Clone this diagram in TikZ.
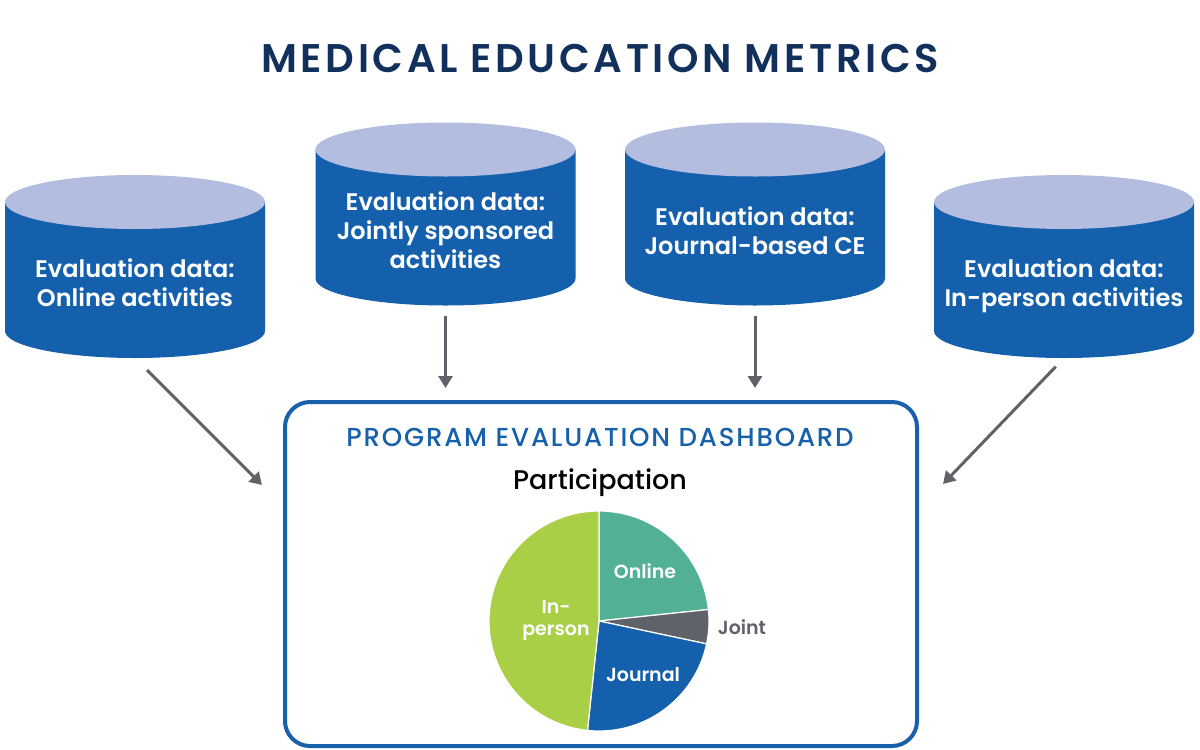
\documentclass[tikz,border=0pt]{standalone}
\usepackage{fontspec}
\setmainfont{Poppins}
\newfontfamily\semibold{Poppins SemiBold}
\newfontfamily\medium{Poppins Medium}
\newfontfamily\titlefont[LetterSpace=9]{Poppins SemiBold}
\newfontfamily\dashfont[LetterSpace=7]{Poppins Medium}
\usetikzlibrary{arrows.meta,positioning,calc}

\definecolor{navy}{HTML}{12305C}
\definecolor{dashblue}{HTML}{1760AA}
\definecolor{cylblue}{HTML}{1460AD}
\definecolor{cyltop}{HTML}{B3BDE0}
\definecolor{arrgray}{HTML}{5F6368}
\definecolor{onlinegreen}{HTML}{52B095}
\definecolor{jointgray}{HTML}{5F6369}
\definecolor{inpersongreen}{HTML}{A8CF45}

\tikzset{
  cylbody/.style={fill=cylblue},
  cyllid/.style={fill=cyltop},
  cyltext/.style={text=white, align=center, font=\semibold\fontsize{12}{14.5}\selectfont,
    execute at begin node=\strut, execute at end node=\strut},
  arr/.style={draw=arrgray, line width=1.5pt, -{Triangle[length=6pt,width=7pt]}},
  dashbox/.style={draw=dashblue, line width=2pt, rounded corners=12.5pt,
    minimum width=316pt, minimum height=172pt},
  slice/.style={draw=white, line width=0.6pt},
  slicelabel/.style={font=\semibold\fontsize{9.5}{11}\selectfont, text=white, align=center}
}

% one data cylinder: x, y of lid centre, name, text
\newcommand{\datacyl}[4]{%
  \fill[cylbody] (#1-130,#2) -- (#1-130,#2+129) arc (180:0:130 and 27) -- (#1+130,#2) -- cycle;
  \fill[cyllid] (#1,#2) ellipse (130 and 27);
  \node[cyltext] (#3) at (#1,#2+85) {#4};
  \coordinate (#3b) at (#1,#2+156);
}

\begin{document}
\begin{tikzpicture}[x=0.5pt, y=-0.5pt]
  \useasboundingbox (0,0) rectangle (1200,750);

  \node[font=\titlefont\fontsize{20}{24}\selectfont, text=navy] (title) at (600,58) {MEDICAL EDUCATION METRICS};

  \datacyl{135}{202}{online}{Evaluation data:\\Online activities}
  \datacyl{445.5}{149.5}{joint}{Evaluation data:\\Jointly sponsored\\activities}
  \datacyl{755}{149.5}{journal}{Evaluation data:\\Journal-based CE}
  \datacyl{1064}{202}{inperson}{Evaluation data:\\In-person activities}

  \node[dashbox] (dash) at (601,574) {};
  \node[font=\dashfont\fontsize{13}{15}\selectfont, text=dashblue] (dtitle) at (600,437) {PROGRAM EVALUATION DASHBOARD};
  \node[font=\medium\fontsize{13.5}{16}\selectfont, below=4pt of dtitle] (part) {Participation};

  % arrows into the dashboard
  \coordinate (onlineend) at (262,485);
  \coordinate (jointend) at (445.5,388);
  \coordinate (journalend) at (755,388);
  \coordinate (inpersonend) at (943,484);
  \draw[arr, shorten <=8.5pt] (onlineb) -- (onlineend);
  \draw[arr, shorten <=5pt] (jointb) -- (jointend);
  \draw[arr, shorten <=5pt] (journalb) -- (journalend);
  \draw[arr, shorten <=6pt] (inpersonb) -- (inpersonend);

  % pie chart
  \begin{scope}[shift={(599,621)}, y=0.5pt]
    \draw[slice, fill=onlinegreen] (0,0) -- (90:110) arc (90:6:110) -- cycle;
    \draw[slice, fill=jointgray] (0,0) -- (6:110) arc (6:-12:110) -- cycle;
    \draw[slice, fill=cylblue] (0,0) -- (-12:110) arc (-12:-96:110) -- cycle;
    \draw[slice, fill=inpersongreen] (0,0) -- (-96:110) arc (-96:-270:110) -- cycle;
    \node[slicelabel] (lonline) at (46,50) {Online};
    \node[slicelabel, text=jointgray] (ljoint) at (143,-6) {Joint};
    \node[slicelabel] (ljournal) at (44,-54) {Journal};
    \node[slicelabel] (linperson) at (-43,1) {In-\\person};
  \end{scope}
\end{tikzpicture}
\end{document}
